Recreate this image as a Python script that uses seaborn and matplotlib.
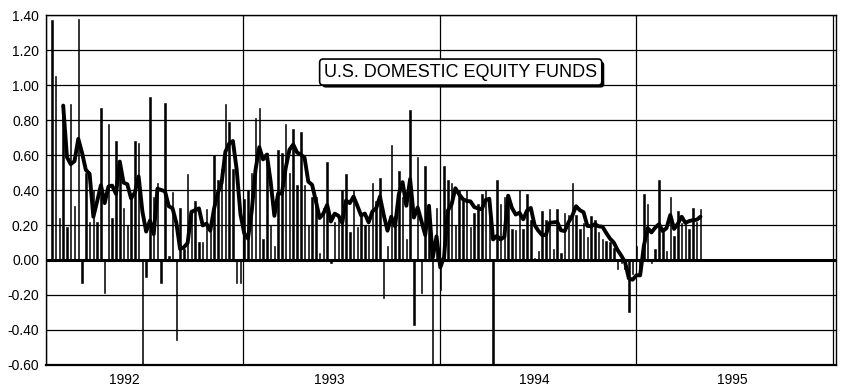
import numpy as np
import pandas as pd
import seaborn as sns
import matplotlib
matplotlib.use("Agg")
import matplotlib.pyplot as plt
import matplotlib.dates as mdates
import matplotlib.patheffects as pe

# ==========================================================
# DATA  (weekly net flows)
# ==========================================================

FIRST_WEEK = "1992-01-12"

flows = [
    1.37, 1.05, 0.24, 0.87, 0.19, 0.89, 0.31, 1.38, -0.13, 0.50,
    0.22, 0.40, 0.22, 0.87, -0.19, 0.78, 0.24, 0.68, 0.55, 0.30,
    0.20, 0.36, 0.68, 0.67, -0.60, -0.10, 0.93, 0.36, 0.44, -0.13,
    0.90, 0.02, 0.39, -0.46, 0.30, 0.06, 0.49, 0.25, 0.34, 0.10,
    0.10, 0.29, 0.18, 0.60, 0.46, 0.52, 0.89, 0.79, 0.52, -0.13,
    -0.13, 0.35, 0.40, 0.50, 0.81, 0.87, 0.12, 0.61, 0.20, 0.08,
    0.63, 0.61, 0.78, 0.50, 0.75, 0.43, 0.73, 0.43, 0.20, 0.36,
    0.36, 0.04, 0.30, 0.56, -0.02, 0.22, 0.25, 0.40, 0.49, 0.16,
    0.40, 0.19, 0.27, 0.20, 0.20, 0.44, 0.34, 0.47, -0.22, 0.08,
    0.66, 0.25, 0.51, 0.36, 0.12, 0.86, -0.37, 0.59, -0.19, 0.54,
    0.30, -0.60, 0.30, -0.17, 0.54, 0.46, 0.44, 0.20, 0.40, 0.35,
    0.40, 0.19, 0.27, 0.32, 0.38, 0.40, 0.30, -0.61, 0.46, 0.32,
    0.36, 0.33, 0.18, 0.17, 0.40, 0.18, 0.38, 0.23, 0.01, 0.05,
    0.28, 0.23, 0.29, 0.06, 0.29, 0.04, 0.27, 0.26, 0.44, 0.26,
    0.18, 0.21, 0.13, 0.25, 0.23, 0.16, 0.12, 0.11, 0.10, 0.07,
    -0.05, -0.02, -0.05, -0.30, -0.08, 0.08, -0.05, 0.38, 0.32, -0.02,
    0.06, 0.46, 0.16, 0.05, 0.36, 0.14, 0.28, 0.21, 0.22, 0.18,
    0.30, 0.22, 0.29,
]

YEAR_LINES = ["1992-01-01", "1993-01-01", "1994-01-01", "1995-01-01", "1996-01-01"]
YEAR_LABELS = ["1992", "1993", "1994", "1995"]
LABEL_AT = ["1992-05-25", "1993-06-10", "1994-06-25", "1995-06-28"]
Y_TICKS = [-0.60, -0.40, -0.20, 0.00, 0.20, 0.40, 0.60, 0.80, 1.00, 1.20, 1.40]
TITLE = "U.S. DOMESTIC EQUITY FUNDS"


# ==========================================================
# PREP
# ==========================================================

df = pd.DataFrame({
    "week": pd.date_range(FIRST_WEEK, periods=len(flows), freq="7D"),
    "flow": flows,
})
df["x"] = mdates.date2num(df["week"])
df["avg4"] = df["flow"].rolling(4).mean()   # 4-week moving average

year_x = mdates.date2num(pd.to_datetime(YEAR_LINES))
label_x = mdates.date2num(pd.to_datetime(LABEL_AT))


# ==========================================================
# PLOT
# ==========================================================

sns.set_theme(style="white")
plt.rcParams["font.family"] = ["Liberation Sans", "DejaVu Sans"]

fig = plt.figure(figsize=(8.48, 3.88), dpi=100)
ax = fig.add_axes([0.0542, 0.0593, 0.9316, 0.902])

# horizontal grid
for y in Y_TICKS:
    ax.axhline(y, color="black", lw=0.9, zorder=1)
# year grid
for x in year_x:
    ax.axvline(x, color="black", lw=0.9, zorder=1)

sns.barplot(data=df, x="x", y="flow", native_scale=True, width=0.4,
            color="black", edgecolor="black", linewidth=0.4,
            errorbar=None, ax=ax, zorder=2)
sns.lineplot(data=df.dropna(), x="x", y="avg4", color="black", lw=2.8,
             ax=ax, zorder=3)

ax.axhline(0, color="black", lw=2.2, zorder=4)

ax.set_xlim(year_x[0], year_x[-1] + 5.5)
ax.set_ylim(-0.60, 1.40)

ax.set_yticks(Y_TICKS)
ax.set_yticklabels([f"{v:.2f}" for v in Y_TICKS])
ax.set_xticks(year_x)
ax.set_xticklabels([])
ax.set_xticks(label_x, minor=True)
ax.set_xticklabels(YEAR_LABELS, minor=True)
ax.tick_params(axis="x", which="both", length=0, pad=6, labelsize=10)
ax.tick_params(axis="y", length=3, width=0.9, color="black", pad=2, labelsize=10)
for lab in ax.get_yticklabels() + ax.get_xticklabels(minor=True):
    lab.set_color("black")

ax.set_xlabel("")
ax.set_ylabel("")
for side in ["left", "right", "top", "bottom"]:
    ax.spines[side].set_color("black")
    ax.spines[side].set_linewidth(1.0)
ax.spines["bottom"].set_linewidth(1.6)

# title box with a slight drop shadow, as in the original
title = ax.text(0.525, 0.837, TITLE, transform=ax.transAxes, ha="center",
                va="center", fontsize=13, color="black", zorder=6,
                bbox=dict(boxstyle="round,pad=0.25,rounding_size=0.2",
                          facecolor="white", edgecolor="black", lw=1.2))
title.get_bbox_patch().set_path_effects([
    pe.SimplePatchShadow(offset=(1.8, -1.8), shadow_rgbFace="black", alpha=1.0),
    pe.Normal(),
])

fig.savefig("out.png", dpi=100, facecolor="white")
